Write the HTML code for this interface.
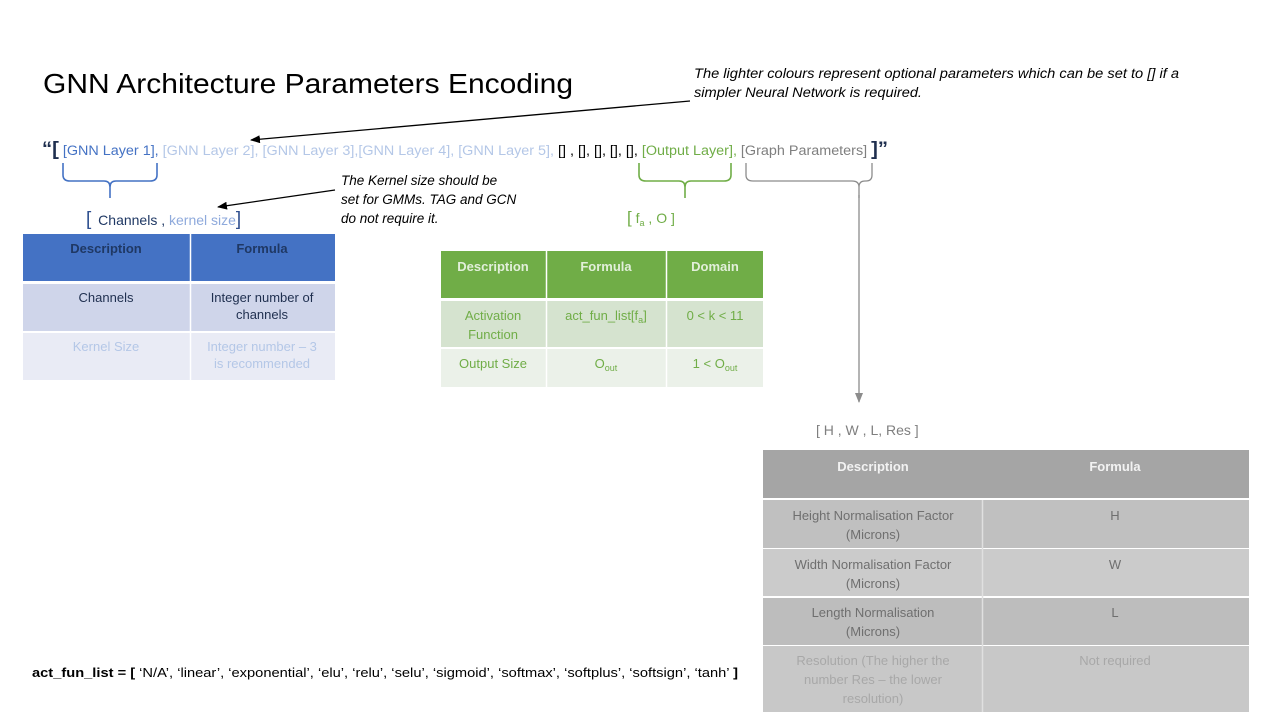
<!DOCTYPE html>
<html><head><meta charset="utf-8"><style>
body{margin:0;background:#fff;}
svg{display:block;font-family:"Liberation Sans",sans-serif;}
</style></head><body>
<svg width="1280" height="720" viewBox="0 0 1280 720" xmlns="http://www.w3.org/2000/svg">
<defs>
<marker id="ah" markerWidth="10" markerHeight="8" refX="9" refY="4" orient="auto" markerUnits="userSpaceOnUse"><path d="M0,0 L10,4 L0,8 z" fill="#000"/></marker>
<marker id="ag" markerWidth="10" markerHeight="8" refX="9" refY="4" orient="auto" markerUnits="userSpaceOnUse"><path d="M0,0 L10,4 L0,8 z" fill="#8c8c8c"/></marker>
</defs>
<text x="43" y="93" font-size="28" fill="#000" textLength="530" lengthAdjust="spacingAndGlyphs">GNN Architecture Parameters Encoding</text>
<text x="694" y="78" font-size="13.5" font-style="italic" fill="#000" textLength="485" lengthAdjust="spacingAndGlyphs">The lighter colours represent optional parameters which can be set to [] if a</text>
<text x="694" y="97" font-size="13.5" font-style="italic" fill="#000" textLength="228" lengthAdjust="spacingAndGlyphs">simpler Neural Network  is required.</text>
<line x1="690" y1="101" x2="251" y2="140" stroke="#000" stroke-width="1.3" marker-end="url(#ah)"/>

<text x="42" y="155" font-size="13.5" textLength="846" lengthAdjust="spacingAndGlyphs"><tspan font-weight="bold" font-size="19" fill="#1f2f4f">“[</tspan><tspan fill="#4472c4"> [GNN Layer 1], </tspan><tspan fill="#b4c7e7">[GNN Layer 2], [GNN Layer 3],[GNN Layer 4], [GNN Layer 5], </tspan><tspan fill="#000">[] , [], [], [], [], </tspan><tspan fill="#70ad47">[Output Layer], </tspan><tspan fill="#7f7f7f">[Graph Parameters] </tspan><tspan font-weight="bold" font-size="19" fill="#1f2f4f">]”</tspan></text>

<path d="M63,163 L63,175 Q63,181 70,181 L104,181 Q110,181 110,187 L110,198 M110,187 Q110,181 116,181 L150,181 Q157,181 157,175 L157,163" fill="none" stroke="#4472c4" stroke-width="1.6"/>
<path d="M639,163 L639,175 Q639,181 646,181 L679,181 Q685,181 685,187 L685,198 M685,187 Q685,181 691,181 L724,181 Q731,181 731,175 L731,163" fill="none" stroke="#70ad47" stroke-width="1.6"/>
<path d="M746,163 L746,175 Q746,181 753,181 L852,181 Q859,181 859,187 L859,198 M859,187 Q859,181 865,181 L866,181 Q872,181 872,175 L872,163" fill="none" stroke="#8c8c8c" stroke-width="1.3"/>
<line x1="859" y1="195" x2="859" y2="402" stroke="#8c8c8c" stroke-width="1.3" marker-end="url(#ag)"/>

<text x="86" y="225" font-size="14"><tspan font-size="19" fill="#2f4f8f">[</tspan><tspan fill="#1f3864" dx="3"> Channels , </tspan><tspan fill="#8faadc">kernel  size</tspan><tspan font-size="19" fill="#2f4f8f">]</tspan></text>
<text x="341" y="185" font-size="13.5" font-style="italic">The Kernel size should be</text>
<text x="341" y="204" font-size="13.5" font-style="italic">set for GMMs. TAG and GCN</text>
<text x="341" y="223" font-size="13.5" font-style="italic">do not require it.</text>
<line x1="335" y1="190" x2="218" y2="207" stroke="#000" stroke-width="1.3" marker-end="url(#ah)"/>

<text x="627" y="223" font-size="14" fill="#70ad47"><tspan font-size="17">[</tspan> f<tspan font-size="9" dy="3">a</tspan><tspan dy="-3"> , O ]</tspan></text>

<!-- blue table -->
<rect x="23" y="234" width="312" height="47" fill="#4472c4"/>
<rect x="23" y="284" width="312" height="47" fill="#cfd5ea"/>
<rect x="23" y="333" width="312" height="47" fill="#e9ebf5"/>
<line x1="190.5" y1="234" x2="190.5" y2="380" stroke="#fff" stroke-width="1.5"/>
<g font-size="13" text-anchor="middle">
<text x="106" y="253" font-weight="bold" fill="#1f3864">Description</text>
<text x="262" y="253" font-weight="bold" fill="#1f3864">Formula</text>
<text x="106" y="302" fill="#1f2f4f">Channels</text>
<text x="262" y="302" fill="#1f2f4f">Integer number of</text>
<text x="262" y="319" fill="#1f2f4f">channels</text>
<text x="106" y="351" fill="#b4c7e7">Kernel Size</text>
<text x="262" y="351" fill="#b4c7e7">Integer number – 3</text>
<text x="262" y="368" fill="#b4c7e7">is recommended</text>
</g>

<!-- green table -->
<rect x="441" y="251" width="322" height="47" fill="#70ad47"/>
<rect x="441" y="301" width="322" height="46" fill="#d5e3cf"/>
<rect x="441" y="349" width="322" height="38" fill="#ebf1e9"/>
<line x1="546.5" y1="251" x2="546.5" y2="387" stroke="#fff" stroke-width="1.5"/>
<line x1="666.5" y1="251" x2="666.5" y2="387" stroke="#fff" stroke-width="1.5"/>
<g font-size="13" text-anchor="middle" fill="#70ad47">
<text x="493" y="271" font-weight="bold" fill="#e2efda">Description</text>
<text x="606" y="271" font-weight="bold" fill="#e2efda">Formula</text>
<text x="715" y="271" font-weight="bold" fill="#e2efda">Domain</text>
<text x="493" y="320">Activation</text>
<text x="493" y="339">Function</text>
<text x="606" y="320">act_fun_list[f<tspan font-size="9" dy="3">a</tspan><tspan dy="-3">]</tspan></text>
<text x="715" y="320">0 &lt; k &lt; 11</text>
<text x="493" y="368">Output Size</text>
<text x="606" y="368">O<tspan font-size="9" dy="3">out</tspan></text>
<text x="715" y="368">1 &lt; O<tspan font-size="9" dy="3">out</tspan></text>
</g>

<text x="816" y="435" font-size="14" fill="#7f7f7f">[ H , W , L, Res ]</text>
<!-- grey table -->
<rect x="763" y="450" width="486" height="48" fill="#a5a5a5"/>
<rect x="763" y="500" width="486" height="48" fill="#c0c0c0"/>
<rect x="763" y="549" width="486" height="47" fill="#cbcbcb"/>
<rect x="763" y="598" width="486" height="47" fill="#bdbdbd"/>
<rect x="763" y="646" width="486" height="66" fill="#c8c8c8"/>
<line x1="982.5" y1="500" x2="982.5" y2="712" stroke="#e0e0e0" stroke-width="1.5"/>
<g font-size="13" text-anchor="middle" fill="#6f6f6f">
<text x="873" y="471" font-weight="bold" fill="#f2f2f2">Description</text>
<text x="1115" y="471" font-weight="bold" fill="#f2f2f2">Formula</text>
<text x="873" y="520">Height Normalisation  Factor</text>
<text x="873" y="539">(Microns)</text>
<text x="1115" y="520">H</text>
<text x="873" y="569">Width Normalisation  Factor</text>
<text x="873" y="588">(Microns)</text>
<text x="1115" y="569">W</text>
<text x="873" y="617">Length Normalisation</text>
<text x="873" y="636">(Microns)</text>
<text x="1115" y="617">L</text>
<g fill="#a8a8a8">
<text x="873" y="665">Resolution (The higher the</text>
<text x="873" y="684">number  Res – the lower</text>
<text x="873" y="703">resolution)</text>
<text x="1115" y="665">Not required</text>
</g>
</g>

<text x="32" y="677" font-size="13" textLength="706" lengthAdjust="spacingAndGlyphs"><tspan font-weight="bold">act_fun_list = [</tspan> ‘N/A’,  ‘linear’, ‘exponential’, ‘elu’, ‘relu’, ‘selu’, ‘sigmoid’, ‘softmax’, ‘softplus’, ‘softsign’, ‘tanh’  <tspan font-weight="bold">]</tspan></text>
</svg>
</body></html>
